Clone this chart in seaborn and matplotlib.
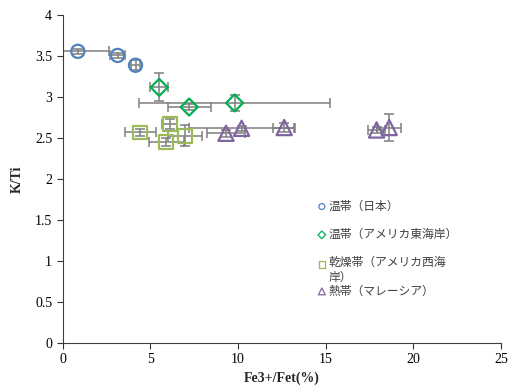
import matplotlib
matplotlib.use("Agg")
import matplotlib.pyplot as plt
from matplotlib.legend_handler import HandlerPathCollection
import pandas as pd
import seaborn as sns

# ---- data ----
labels = ["温帯（日本）", "温帯（アメリカ東海岸）", "乾燥帯（アメリカ西海\n岸）", "熱帯（マレーシア）"]
markers = ["o", "D", "s", "^"]
colors = ["#4F81BD", "#00B050", "#9BBB59", "#8064A2"]

jp_x = [0.87, 3.14, 4.16]
jp_y = [3.56, 3.51, 3.39]
jp_xerr = [1.8, 0.43, 0.25]
jp_yerr = [0.03, 0.03, 0.06]

east_x = [5.51, 7.22, 9.81]
east_y = [3.12, 2.88, 2.93]
east_xerr = [0.5, 1.23, 5.44]
east_yerr = [0.17, 0.04, 0.10]

west_x = [4.43, 6.12, 6.99, 5.91]
west_y = [2.57, 2.67, 2.53, 2.45]
west_xerr = [0.87, 0.43, 0.97, 1.0]
west_yerr = [0.04, 0.06, 0.13, 0.05]

trop_x = [9.32, 10.21, 12.64, 17.91, 18.63]
trop_y = [2.56, 2.62, 2.63, 2.60, 2.63]
trop_xerr = [1.1, 3.0, 0.62, 0.5, 0.7]
trop_yerr = [0.04, 0.03, 0.05, 0.04, 0.17]

groups = [
    (jp_x, jp_y, jp_xerr, jp_yerr),
    (east_x, east_y, east_xerr, east_yerr),
    (west_x, west_y, west_xerr, west_yerr),
    (trop_x, trop_y, trop_xerr, trop_yerr),
]

sns.set_style("ticks")
plt.rcParams["font.family"] = ["Liberation Serif", "Noto Sans CJK JP"]

fig = plt.figure(figsize=(5.09, 3.92), dpi=100)
ax = fig.add_axes([0.123, 0.125, 0.861, 0.836])

sizes = [90, 75, 100, 120]
for (gx, gy, gxe, gye), lab, mk, col, sz in zip(groups, labels, markers, colors, sizes):
    ax.errorbar(gx, gy, xerr=gxe, yerr=gye, fmt="none", ecolor="#7f7f7f",
                elinewidth=1.1, capsize=3.5, capthick=1.1, zorder=2)
    df = pd.DataFrame({"x": gx, "y": gy})
    sns.scatterplot(data=df, x="x", y="y", ax=ax, marker=mk, s=sz,
                    facecolor="none", edgecolor=col, linewidth=1.6,
                    label=lab, zorder=3)

ax.set_xlim(0, 25)
ax.set_ylim(0, 4)
ax.set_xticks([0, 5, 10, 15, 20, 25])
ax.set_yticks([0, 0.5, 1, 1.5, 2, 2.5, 3, 3.5, 4])
ax.set_yticklabels(["0", "0.5", "1", "1.5", "2", "2.5", "3", "3.5", "4"])
ax.tick_params(labelsize=10, length=4, width=0.8, colors="#333333", labelcolor="black")
for side in ["left", "bottom"]:
    ax.spines[side].set_color("#404040")
    ax.spines[side].set_linewidth(0.8)
sns.despine(ax=ax)

ax.set_xlabel("Fe3+/Fet(%)", fontsize=10, fontweight="bold", labelpad=4)
ax.set_ylabel("K/Ti", fontsize=10, fontweight="bold", labelpad=8)

# legend: Excel keeps a fixed row height, so the last entry goes in its own box
handles, texts = ax.get_legend_handles_labels()
leg_kw = dict(frameon=False, markerscale=0.45, handletextpad=0.15, handlelength=0.8,
              labelspacing=1.3, borderaxespad=0,
              prop={"family": ["Noto Sans CJK JP"], "size": 8.5})
leg1 = ax.legend(handles[:3], texts[:3], loc="upper left",
                 bbox_to_anchor=(0.57, 0.452),
                 handler_map={handles[2]: HandlerPathCollection(yoffsets=[1.3])},
                 **leg_kw)
ax.add_artist(leg1)
leg2 = ax.legend(handles[3:], texts[3:], loc="upper left",
                 bbox_to_anchor=(0.57, 0.193), **leg_kw)
for lg in (leg1, leg2):
    for t in lg.get_texts():
        t.set_color("#404040")
    for h in lg.legend_handles:
        h.set_linewidth(0.9)

fig.savefig("out.png", dpi=100)
